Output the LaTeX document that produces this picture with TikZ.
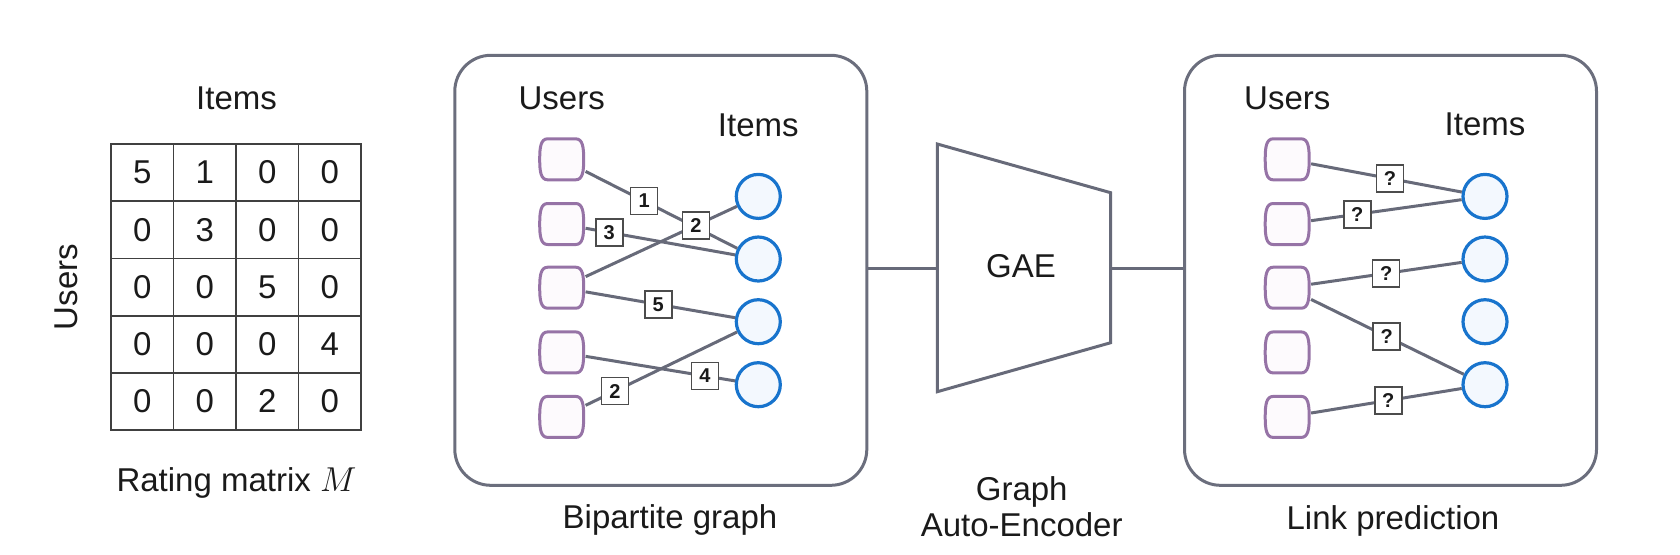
\documentclass[tikz,border=0pt]{standalone}
\usepackage{fontspec}
\setmainfont{Liberation Sans}
\usetikzlibrary{calc}
\definecolor{edgegray}{HTML}{676A79}
\definecolor{boxgray}{HTML}{6B6E7D}
\definecolor{usrpurple}{HTML}{9673A6}
\definecolor{usrfill}{HTML}{FDFAFD}
\definecolor{itemblue}{HTML}{1874CD}
\definecolor{itemfill}{HTML}{F3F8FE}
\definecolor{txt}{HTML}{1A1A1A}
\begin{document}
\begin{tikzpicture}[x=0.5pt,y=-0.5pt,
  font=\fontsize{16.5}{19}\selectfont, text=txt,
  panel/.style={draw=boxgray, line width=1.5pt, rounded corners=18pt,
    minimum width=206pt, minimum height=215pt, inner sep=0pt},
  usernode/.style={minimum width=23.5pt, minimum height=22pt, inner sep=0pt},
  itemnode/.style={circle, draw=itemblue, fill=itemfill, line width=1.6pt,
    minimum size=22pt, inner sep=0pt},
  wlabel/.style={draw=black!70, fill=white, line width=0.8pt, minimum size=13.5pt,
    inner sep=0pt, font=\fontsize{10}{11}\selectfont\bfseries},
  link/.style={draw=edgegray, line width=1.5pt},
  cell/.style={draw=black!75, line width=0.9pt, minimum width=31.25pt,
    minimum height=28.6pt, inner sep=0pt},
  usershape/.style={draw=usrpurple, fill=usrfill, line width=1.5pt},
  txtlbl/.style={anchor=base, inner sep=0pt}
]
\useasboundingbox (0,0) rectangle (1680,554);

% ---------- Rating matrix ----------
\node[txtlbl] (mitems) at (236.5,109) {Items};
\node[rotate=90, inner sep=0pt] (musers) at (66,287) {Users};
\foreach \r/\vals in {1/{5,1,0,0},2/{0,3,0,0},3/{0,0,5,0},4/{0,0,0,4},5/{0,0,2,0}}{
  \foreach \v [count=\c] in \vals {
    \node[cell] (m\r\c) at ({111+62.5*(\c-0.5)},{144+57.2*(\r-0.5)}) {\v};
  }
}
\node[txtlbl] (mcap) at (236.5,491.7) {Rating matrix $M$};

% ---------- Bipartite graph panel ----------
\node[panel] (bip) at (660.8,270.3) {};
\node[txtlbl] (busers) at (561.7,109) {Users};
\node[txtlbl] (bitems) at (758.3,136.7) {Items};
\foreach \i/\y in {1/159.3,2/224,3/287.7,4/352.4,5/416.9}{
  \node[usernode] (bu\i) at (561.7,\y) {};
  \begin{scope}[shift={(bu\i.center)}]
    \path[usershape] (-14,-20.5) -- (14,-20.5) .. controls (21,-20.5) and (22,-12) .. (22,0)
      .. controls (22,12) and (21,20.5) .. (14,20.5) -- (-14,20.5)
      .. controls (-21,20.5) and (-22,12) .. (-22,0)
      .. controls (-22,-12) and (-21,-20.5) .. (-14,-20.5) -- cycle;
  \end{scope}
}
\foreach \i/\y in {1/196.4,2/259,3/321.7,4/384.7}{
  \node[itemnode] (bi\i) at (758.3,\y) {};
}
\draw[link] (bu1) -- (bi2);
\draw[link] (bu2) -- (bi2);
\draw[link] (bu3) -- (bi1);
\draw[link] (bu3) -- (bi3);
\draw[link] (bu4) -- (bi4);
\draw[link] (bu5) -- (bi3);
\node[wlabel] (bl1) at ($(bu1)!0.419!(bi2)$) {1};
\node[wlabel] (bl2) at ($(bu2)!0.242!(bi2)$) {3};
\node[wlabel] (bl3) at ($(bu3)!0.683!(bi1)$) {2};
\node[wlabel] (bl4) at ($(bu3)!0.491!(bi3)$) {5};
\node[wlabel] (bl5) at ($(bu4)!0.729!(bi4)$) {4};
\node[wlabel] (bl6) at ($(bu5)!0.271!(bi3)$) {2};
\node[txtlbl] (bcap) at (670,528.3) {Bipartite graph};

% ---------- GAE ----------
\coordinate (tl) at (937.3,144);
\coordinate (tr) at (1110.7,192.7);
\coordinate (br) at (1110.7,342.7);
\coordinate (bl) at (937.3,391.7);
\coordinate (gin) at (937.3,268);
\coordinate (gout) at (1110.7,268);
\draw[link, line join=miter] (tl) -- (tr) -- (br) -- (bl) -- cycle;
\node[txtlbl] (gae) at (1021,277) {GAE};
\node[txtlbl] (gcap1) at (1021.7,500) {Graph};
\node[txtlbl] (gcap2) at (1021.7,536.5) {Auto-Encoder};

% ---------- Link prediction panel ----------
\node[panel] (lp) at (1390.5,270.3) {};
\draw[link] (gin -| bip.east) -- (gin);
\draw[link] (gout) -- (gout -| lp.west);
\node[txtlbl] (lusers) at (1287.3,109) {Users};
\node[txtlbl] (litems) at (1485,135) {Items};
\foreach \i/\y in {1/159.3,2/224,3/287.7,4/352.4,5/416.9}{
  \node[usernode] (lu\i) at (1287.2,\y) {};
  \begin{scope}[shift={(lu\i.center)}]
    \path[usershape] (-14,-20.5) -- (14,-20.5) .. controls (21,-20.5) and (22,-12) .. (22,0)
      .. controls (22,12) and (21,20.5) .. (14,20.5) -- (-14,20.5)
      .. controls (-21,20.5) and (-22,12) .. (-22,0)
      .. controls (-22,-12) and (-21,-20.5) .. (-14,-20.5) -- cycle;
  \end{scope}
}
\foreach \i/\y in {1/196.4,2/259,3/321.7,4/384.7}{
  \node[itemnode] (li\i) at (1485,\y) {};
}
\draw[link] (lu1) -- (li1);
\draw[link] (lu2) -- (li1);
\draw[link] (lu3) -- (li2);
\draw[link] (lu3) -- (li4);
\draw[link] (lu5) -- (li4);
\node[wlabel] (ll1) at ($(lu1)!0.52!(li1)$) {?};
\node[wlabel] (ll2) at ($(lu2)!0.354!(li1)$) {?};
\node[wlabel] (ll3) at ($(lu3)!0.5!(li2)$) {?};
\node[wlabel] (ll4) at ($(lu3)!0.503!(li4)$) {?};
\node[wlabel] (ll5) at ($(lu5)!0.511!(li4)$) {?};
\node[txtlbl] (lcap) at (1393,529) {Link prediction};
\end{tikzpicture}
\end{document}
